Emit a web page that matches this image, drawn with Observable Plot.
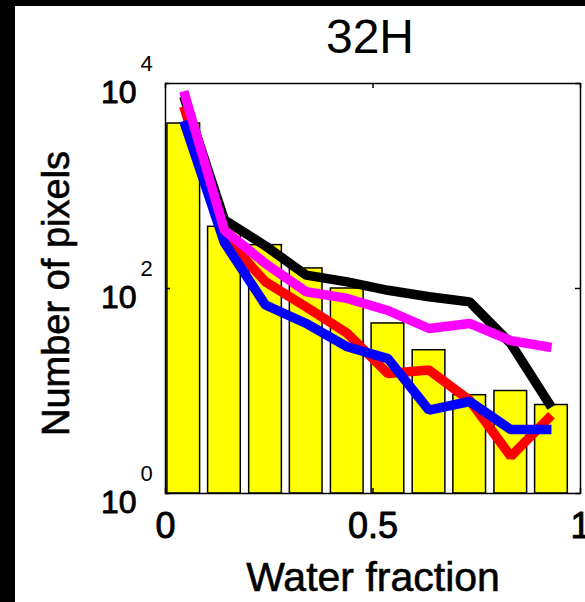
<!DOCTYPE html>
<html><head><meta charset="utf-8">
<script src="https://cdn.jsdelivr.net/npm/d3@7"></script>
<script src="https://cdn.jsdelivr.net/npm/@observablehq/plot@0.6"></script>
<style>
html,body{margin:0;padding:0;background:#000;}
body{width:585px;height:602px;overflow:hidden;position:relative;}
#chart{position:absolute;left:15px;top:6px;width:570px;height:596px;background:#fff;overflow:hidden;}
</style></head><body><div id="chart"></div>
<script>
const title = "32H";
const xLabel = "Water fraction";
const yLabel = "Number of pixels";
const binCenters = [0.044, 0.142, 0.241, 0.339, 0.438, 0.536, 0.635, 0.733, 0.832, 0.930];
const barCounts = [4070, 400, 265, 157, 100, 45.6, 25, 9.1, 10, 7.3];
const blackSeries = [7500, 465, 260, 135, 116, 96, 83, 74, 29, 6.95];
const redSeries = [6000, 320, 116, 66, 36.5, 14.8, 16, 8.1, 2.3, 5.8];
const blueSeries = [4300, 280, 69, 45.6, 27, 20.7, 6.5, 7.9, 4.2, 4.2];
const magentaSeries = [8400, 370, 175, 93, 80, 61, 40.7, 45.6, 31, 26.6];
const xTicks = [0, 0.5, 1];
const xTickLabels = ["0", "0.5", "1"];
const yTicks = [1, 100, 10000];
const yTickBase = ["10", "10", "10"];
const yTickExp = ["0", "2", "4"];

const series = [
  {color: "#000000", values: blackSeries},
  {color: "#ff0000", values: redSeries},
  {color: "#0000ff", values: blueSeries},
  {color: "#ff00ff", values: magentaSeries}
];

const W = 570, H = 596, mL = 150, mR = 5, mT = 77, mB = 109;
const plotW = W - mL - mR, plotH = H - mT - mB;
const binW = (binCenters[binCenters.length - 1] - binCenters[0]) / (binCenters.length - 1);
const half = binW * 0.4;
const bars = binCenters.map((c, i) => ({x1: c - half, x2: c + half, y: barCounts[i]}));
const font = "'Liberation Sans', Arial, Helvetica, sans-serif";
const thick = {stroke: "#000", strokeWidth: 0.9, fill: "#000"};

const chart = Plot.plot({
  width: W, height: H,
  marginLeft: mL, marginRight: mR, marginTop: mT, marginBottom: mB,
  style: {background: "#fff", fontFamily: font, color: "#000"},
  x: {domain: [0, 1], axis: null},
  y: {type: "log", domain: [1, 10000], axis: null},
  marks: [
    Plot.rectY(bars, {x1: "x1", x2: "x2", y1: 1, y2: "y", fill: "#ffff00", stroke: "#000", strokeWidth: 1.5}),
    ...series.map(s => Plot.line(binCenters, {
      x: d => d, y: (d, i) => s.values[i],
      stroke: s.color, strokeWidth: 9.5, strokeLinejoin: "miter", strokeLinecap: "butt"
    })),
    Plot.frame({stroke: "#000", strokeWidth: 1.5}),
    Plot.tickY(yTicks, {y: d => d, stroke: "#000", strokeWidth: 1.5, insetRight: plotW - 5}),
    Plot.tickY(yTicks, {y: d => d, stroke: "#000", strokeWidth: 1.5, insetLeft: plotW - 5}),
    Plot.tickX(xTicks, {x: d => d, stroke: "#000", strokeWidth: 1.5, insetBottom: plotH - 5}),
    Plot.tickX(xTicks, {x: d => d, stroke: "#000", strokeWidth: 1.5, insetTop: plotH - 5}),
    Plot.text(xTicks, {x: d => d, text: (d, i) => xTickLabels[i], frameAnchor: "bottom", dy: 19, lineAnchor: "top", fontSize: 36, ...thick}),
    Plot.text(yTicks, {y: d => d, text: (d, i) => yTickBase[i], frameAnchor: "left", dx: -29, dy: 9, textAnchor: "end", lineAnchor: "middle", fontSize: 32, ...thick}),
    Plot.text(yTicks, {y: d => d, text: (d, i) => yTickExp[i], frameAnchor: "left", dx: -25, dy: -20, textAnchor: "start", lineAnchor: "middle", fontSize: 22}),
    Plot.text([title], {frameAnchor: "top", dx: -3, dy: -31, lineAnchor: "bottom", fontSize: 48}),
    Plot.text([xLabel], {frameAnchor: "bottom", dy: 97, lineAnchor: "bottom", fontSize: 41, ...thick, strokeWidth: 0.6}),
    Plot.text([yLabel], {frameAnchor: "left", dx: -109, dy: 5, rotate: -90, textAnchor: "middle", lineAnchor: "middle", fontSize: 38, ...thick, strokeWidth: 0.6})
  ]
});
document.getElementById("chart").appendChild(chart);
</script>
</body></html>
